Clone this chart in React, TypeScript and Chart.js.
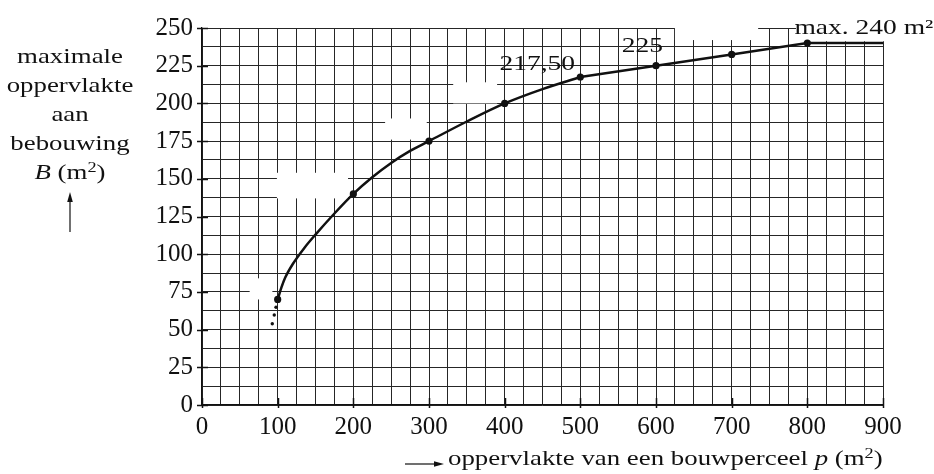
import React, { useEffect, useRef } from "react";
import { Chart, registerables } from "chart.js";

Chart.register(...registerables);

// ---- data ----
// smooth part of the curve, p (m2) -> B (m2)
const curveP = [100, 105, 110, 120, 135, 150, 175, 200, 225, 250, 275, 300, 350, 400, 450, 500];
const curveB = [70, 78, 84.5, 93.5, 104, 113, 127, 140, 151, 160.5, 168.5, 175, 188, 200, 209.5, 217.5];
// straight part of the curve
const lineP = [500, 600, 700, 800, 900];
const lineB = [217.5, 225, 232.5, 240, 240];
// marked points
const markP = [100, 200, 300, 400, 500, 600, 700, 800];
const markB = [70, 140, 175, 200, 217.5, 225, 232.5, 240];
// dotted continuation below p = 100
const dotP = [97.8, 95.5, 92.9];
const dotB = [64.8, 59.7, 53.9];
// axis ranges and tick steps
const xMin = 0, xMax = 900, xGridStep = 25, xLabelStep = 100;
const yMin = 0, yMax = 250, yGridStep = 12.5, yLabelStep = 25;
// value labels (data coordinates)
const labelText = ["217,50", "225", "max. 240 m²"];
const labelP = [443, 582, 783];
const labelB = [222.1, 234.1, 246];
const labelAlign = ["center", "center", "left"];
// areas where labels were blanked out in the original (data coordinates: p0, p1, b0, b1)
const blankP0 = [63, 99, 242, 332, 625, 785];
const blankP1 = [93, 193, 297, 390, 735, 915];
const blankB0 = [70, 137, 176, 200, 242, 241.2];
const blankB1 = [84, 154, 190, 214, 253, 254];

const FONT = "'Liberation Serif', 'Times New Roman', serif";
const INK = "#111";
const STRETCH = 1.22;

const overlayPlugin = {
  id: "overlay",
  beforeDatasetsDraw(chart: any) {
    const { ctx, scales } = chart;
    const x = scales.x, y = scales.y;
    ctx.save();
    ctx.fillStyle = "#ffffff";
    for (let i = 0; i < blankP0.length; i++) {
      const x0 = x.getPixelForValue(blankP0[i]);
      const x1 = x.getPixelForValue(blankP1[i]);
      const y0 = y.getPixelForValue(blankB1[i]);
      const y1 = y.getPixelForValue(blankB0[i]);
      ctx.fillRect(x0, y0, x1 - x0, y1 - y0);
    }
    ctx.restore();
  },
  afterDraw(chart: any) {
    const { ctx, scales, chartArea } = chart;
    const x = scales.x, y = scales.y;
    ctx.save();
    ctx.strokeStyle = INK;
    ctx.lineWidth = 1.5;
    ctx.beginPath();
    for (const t of x.ticks) {
      if (Math.abs(t.value % xLabelStep) > 1e-6) continue;
      const px = Math.round(x.getPixelForValue(t.value)) + 0.5;
      ctx.moveTo(px, chartArea.bottom - 7);
      ctx.lineTo(px, chartArea.bottom + 3);
    }
    for (const t of y.ticks) {
      if (Math.abs(t.value % yLabelStep) > 1e-6) continue;
      const py = Math.round(y.getPixelForValue(t.value)) + 0.5;
      ctx.moveTo(chartArea.left - 5, py);
      ctx.lineTo(chartArea.left + 6, py);
    }
    ctx.stroke();

    ctx.fillStyle = INK;
    ctx.font = `22px ${FONT}`;
    ctx.textBaseline = "alphabetic";
    for (let i = 0; i < labelText.length; i++) {
      const px = x.getPixelForValue(labelP[i]);
      const py = y.getPixelForValue(labelB[i]);
      ctx.save();
      ctx.translate(px, py);
      ctx.scale(1.25, 1);
      ctx.textAlign = labelAlign[i] as CanvasTextAlign;
      ctx.fillText(labelText[i], 0, 0);
      ctx.restore();
    }
    ctx.restore();
  },
};

const toXY = (ps: number[], bs: number[]) => ps.map((p, i) => ({ x: p, y: bs[i] }));

export default function App() {
  const ref = useRef<HTMLCanvasElement | null>(null);

  useEffect(() => {
    if (!ref.current) return;
    const chart = new Chart(ref.current, {
      type: "scatter",
      data: {
        datasets: [
          {
            data: toXY(curveP, curveB),
            showLine: true,
            borderColor: INK,
            borderWidth: 2.5,
            pointRadius: 0,
            cubicInterpolationMode: "monotone",
            borderCapStyle: "round",
          } as any,
          {
            data: toXY(lineP, lineB),
            showLine: true,
            borderColor: INK,
            borderWidth: 2.5,
            pointRadius: 0,
            tension: 0,
            borderCapStyle: "round",
          } as any,
          {
            data: toXY(markP, markB),
            showLine: false,
            pointRadius: 3.6,
            pointBackgroundColor: INK,
            pointBorderWidth: 0,
          } as any,
          {
            data: toXY(dotP, dotB),
            showLine: false,
            pointRadius: 1.7,
            pointBackgroundColor: INK,
            pointBorderWidth: 0,
          } as any,
        ],
      },
      options: {
        animation: false,
        responsive: false,
        events: [],
        layout: { padding: { left: 0, right: 51, top: 28, bottom: 0 } },
        plugins: { legend: { display: false }, tooltip: { enabled: false } },
        scales: {
          x: {
            type: "linear",
            min: xMin,
            max: xMax,
            afterFit: (s: any) => {
              s.height = 69;
            },
            ticks: {
              stepSize: xGridStep,
              autoSkip: false,
              maxRotation: 0,
              padding: 7,
              color: INK,
              font: { family: FONT, size: 25 },
              callback: (v: any) => (Math.abs(v % xLabelStep) < 1e-6 ? String(v) : ""),
            },
            grid: { color: "#262626", lineWidth: 1, drawTicks: false },
            border: { color: INK, width: 1.3 },
          },
          y: {
            type: "linear",
            min: yMin,
            max: yMax,
            afterFit: (s: any) => {
              s.width = 202;
            },
            ticks: {
              stepSize: yGridStep,
              autoSkip: false,
              padding: 9,
              color: INK,
              font: { family: FONT, size: 25 },
              callback: (v: any) => (Math.abs(v % yLabelStep) < 1e-6 ? String(v) : ""),
            },
            grid: { color: "#262626", lineWidth: 1, drawTicks: false },
            border: { color: INK, width: 1.3 },
          },
        },
      } as any,
      plugins: [overlayPlugin],
    });
    return () => chart.destroy();
  }, []);

  const textStyle: React.CSSProperties = {
    fontFamily: FONT,
    fontSize: 22,
    color: INK,
    whiteSpace: "nowrap",
  };
  const sup: React.CSSProperties = { fontSize: "0.68em", verticalAlign: "0.5em", lineHeight: 0 };

  return (
    <div style={{ position: "absolute", left: 0, top: 0, width: 934, height: 474, background: "#fff", overflow: "hidden" }}>
      <canvas ref={ref} width={934} height={474} style={{ position: "absolute", left: 0, top: 0, width: 934, height: 474 }} />
      <div
        style={{
          ...textStyle,
          position: "absolute",
          left: 0,
          top: 41,
          width: 140,
          textAlign: "center",
          lineHeight: "29px",
          transform: `scaleX(${STRETCH})`,
          transformOrigin: "70px 0",
        }}
      >
        <div>maximale</div>
        <div>oppervlakte</div>
        <div>aan</div>
        <div>bebouwing</div>
        <div>
          <i>B</i> (m<span style={sup}>2</span>)
        </div>
      </div>
      <svg style={{ position: "absolute", left: 64, top: 190, overflow: "visible" }} width={12} height={45}>
        <line x1={6} y1={8} x2={6} y2={42} stroke={INK} strokeWidth={1.2} />
        <polygon points="6,2 3.2,12 8.8,12" fill={INK} />
      </svg>
      <svg style={{ position: "absolute", left: 403, top: 458, overflow: "visible" }} width={45} height={12}>
        <line x1={2} y1={6} x2={34} y2={6} stroke={INK} strokeWidth={1.2} />
        <polygon points="41,6 31,3.2 31,8.8" fill={INK} />
      </svg>
      <div
        style={{
          ...textStyle,
          position: "absolute",
          left: 448,
          top: 446,
          lineHeight: "24px",
          transform: `scaleX(${STRETCH})`,
          transformOrigin: "0 0",
        }}
      >
        oppervlakte van een bouwperceel <i>p</i> (m<span style={sup}>2</span>)
      </div>
    </div>
  );
}
